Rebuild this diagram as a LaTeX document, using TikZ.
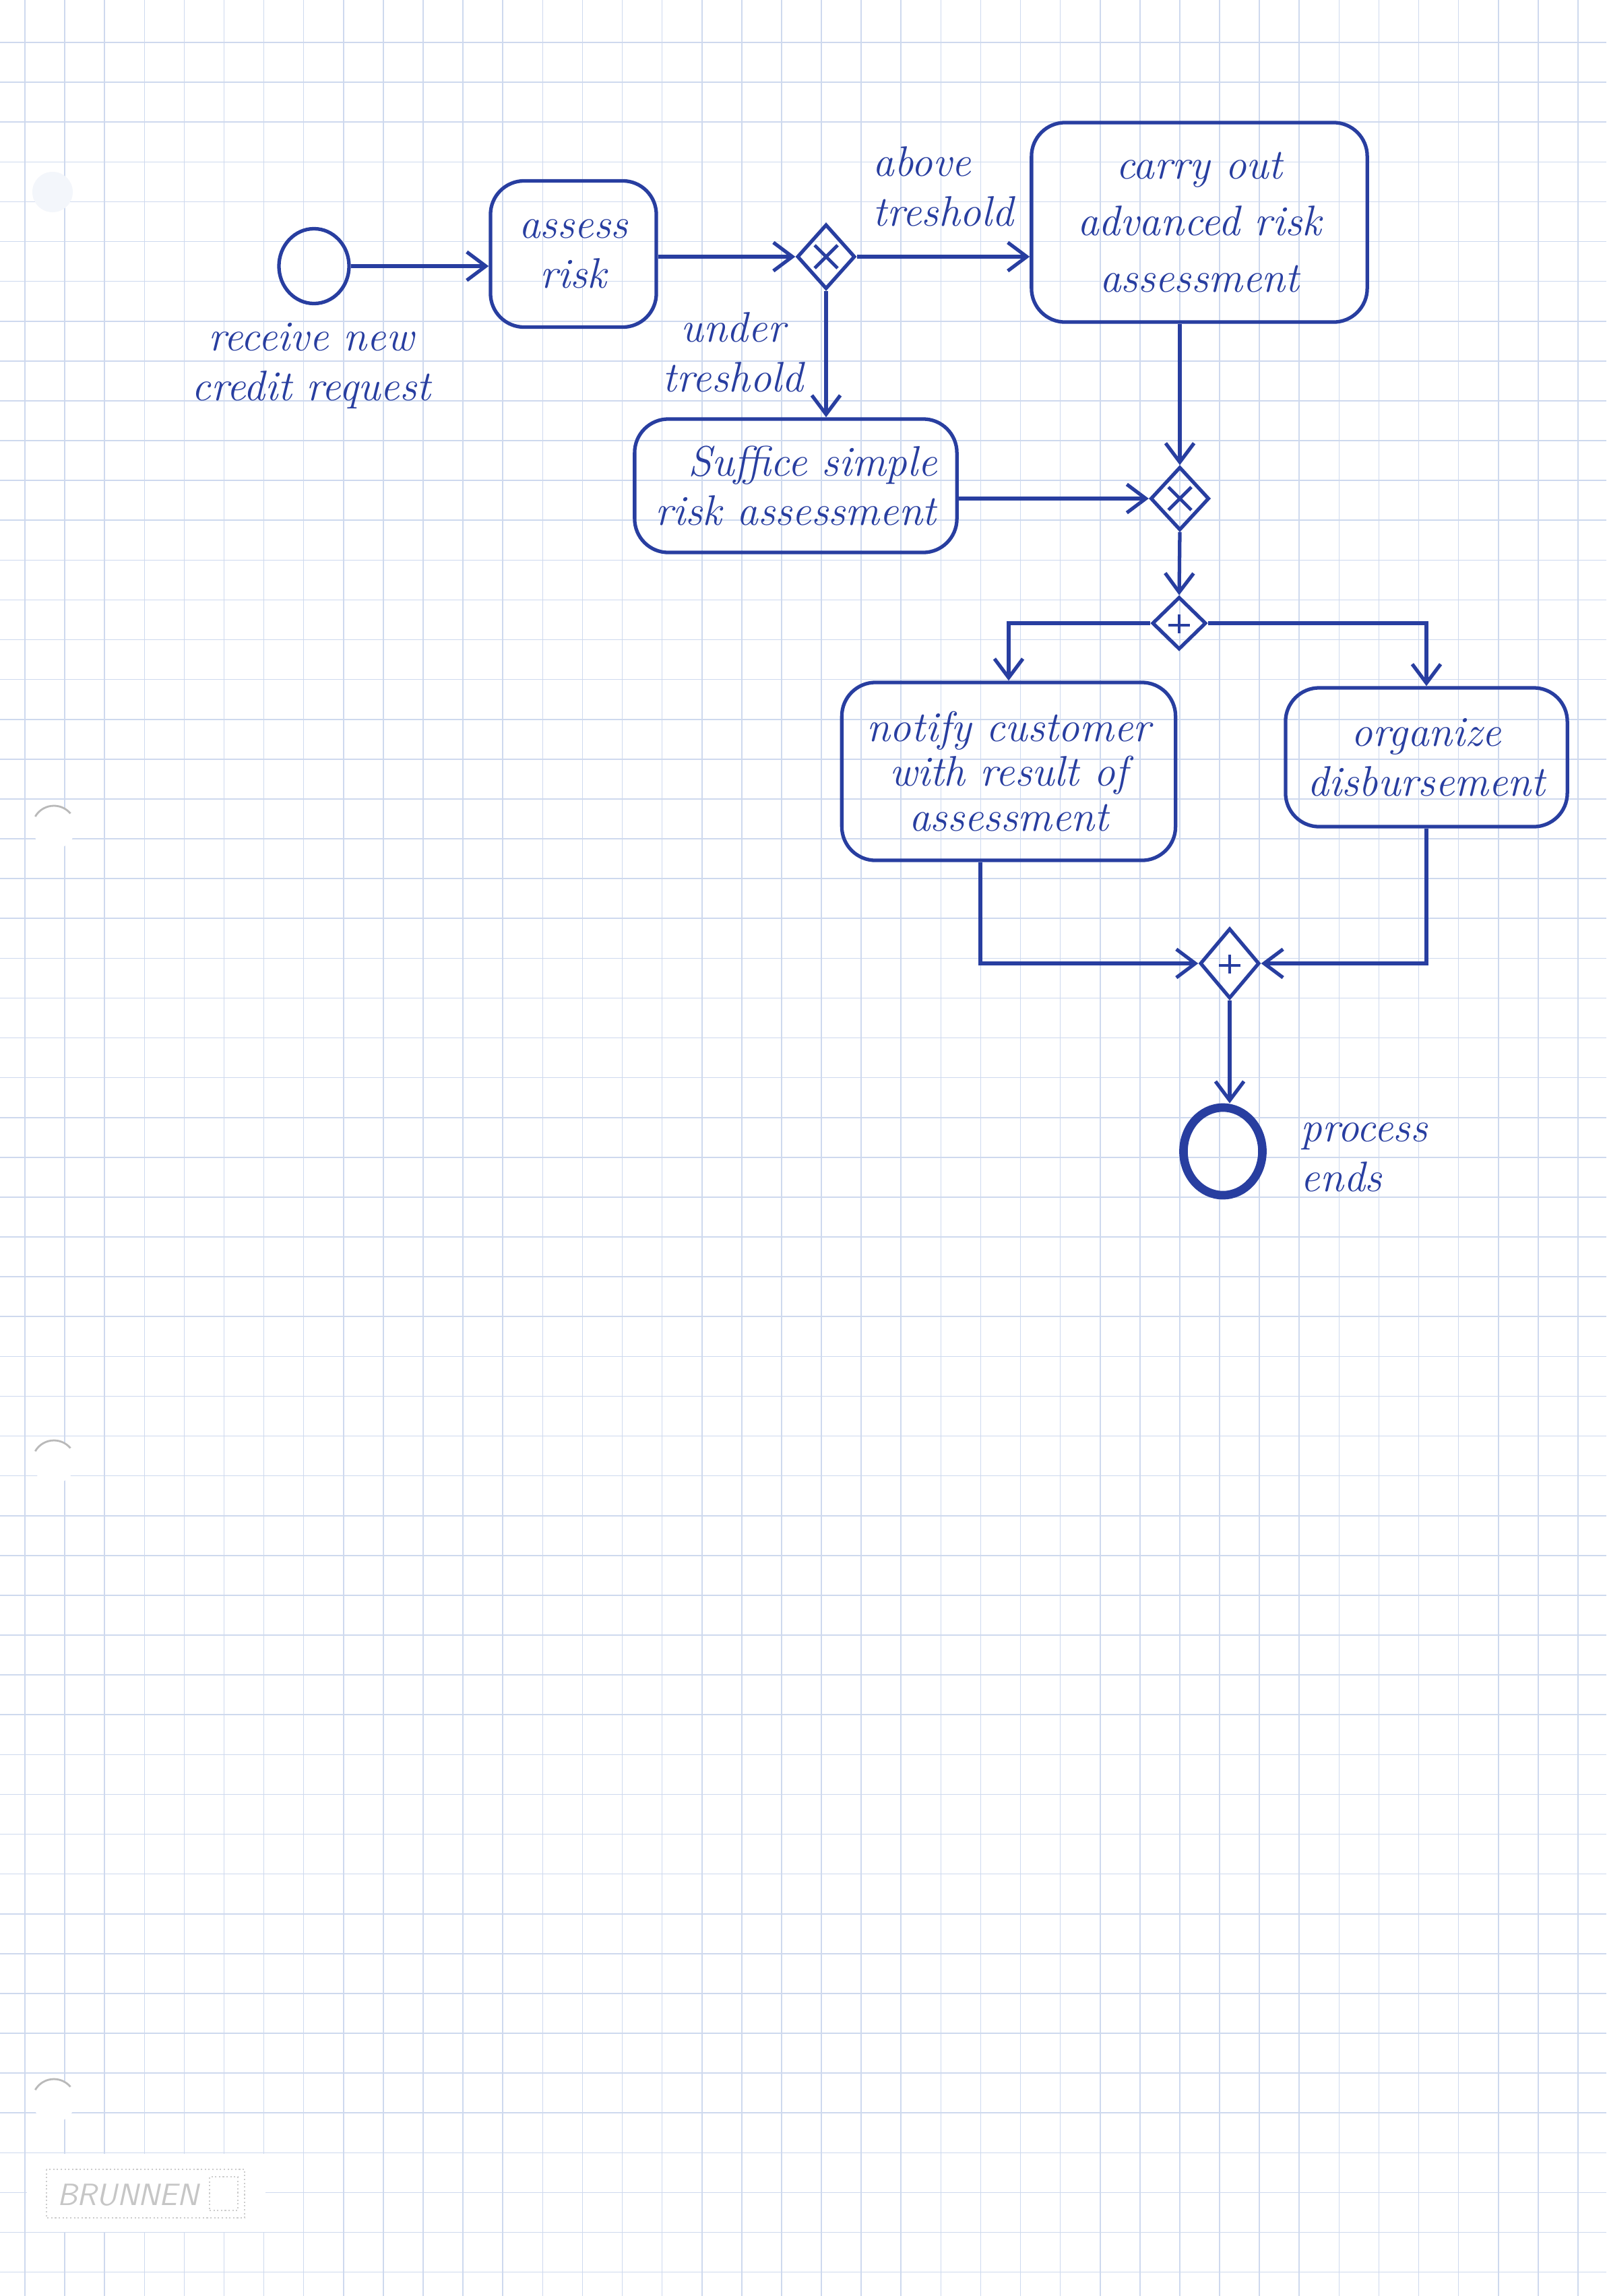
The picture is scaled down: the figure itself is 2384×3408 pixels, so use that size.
\documentclass[tikz,border=0pt]{standalone}
\usetikzlibrary{shapes.geometric,arrows.meta,calc}
\definecolor{ink}{RGB}{40,62,160}
\definecolor{gridc}{RGB}{206,217,238}
\newcommand{\handfont}{\fontsize{18}{21}\selectfont\itshape}
\begin{document}
\begin{tikzpicture}[x=0.01cm,y=-0.01cm,
  pen/.style={draw=ink, line width=1.5pt},
  flow/.style={draw=ink, line width=1.5pt, -{Straight Barb[length=8pt,width=12pt]}},
  task/.style={pen, rounded corners=0.5cm, align=center, font=\handfont, text=ink, inner sep=0pt},
  gw/.style={pen, diamond, inner sep=0pt},
  xorgw/.style={gw, path picture={\draw[ink, line width=1.4pt]
      ($(path picture bounding box.center)+(-17,-17)$) -- ++(34,34)
      ($(path picture bounding box.center)+(17,-17)$) -- ++(-34,34);}},
  andgw/.style={gw, path picture={\draw[ink, line width=1.4pt]
      ($(path picture bounding box.center)+(-16,3)$) -- ++(32,0)
      ($(path picture bounding box.center)+(0,-13)$) -- ++(0,28);}},
  lbl/.style={font=\handfont, text=ink, inner sep=0pt},
  gridline/.style={draw=gridc, line width=0.45pt}]

\useasboundingbox (0,0) rectangle (2384,3408);
\fill[white] (0,0) rectangle (2384,3408);

% grid paper
\foreach \i in {0,...,39} \draw[gridline] ({37+59.1*\i},0) -- ({37+59.1*\i},3408);
\foreach \j in {0,...,56} \draw[gridline] (0,{63+59.1*\j}) -- (2384,{63+59.1*\j});

% punch holes
\fill[gridc!25] (78,285) circle[radius=30];
\foreach \yy in {1228,2170,3118} {
  \fill[white] (80,\yy) circle[radius=32];
  \draw[gray!55, line width=0.8pt] (80,\yy) ++(210:32) arc[start angle=210, end angle=320, radius=32];
}

% brand imprint
\fill[white] (40,3197) rectangle (394,3313);
\draw[gray!40, densely dotted, line width=0.6pt] (69,3220) rectangle (363,3292);
\node[font=\sffamily\itshape\fontsize{13}{13}\selectfont, text=gray!45, inner sep=0pt] (brand) at (190,3258) {BRUNNEN};
\node[draw=gray!40, densely dotted, line width=0.6pt, minimum width=0.42cm, minimum height=0.5cm, inner sep=0pt] (logo) at (332,3256) {};

% events
\node[pen, ellipse, minimum width=1.04cm, minimum height=1.11cm, inner sep=0pt] (S) at (466,395) {};
\node[draw=ink, line width=3.6pt, ellipse, minimum width=1.17cm, minimum height=1.3cm, inner sep=0pt] (End) at (1815,1709) {};

% tasks
\node[task, minimum width=2.46cm, minimum height=2.17cm] (A) at (851,377) {assess\\risk};
\node[task, minimum width=4.98cm, minimum height=2.96cm, font=\fontsize{18}{24}\selectfont\itshape] (B) at (1780,330) {carry out\\advanced risk\\assessment};
\node[task, minimum width=4.78cm, minimum height=1.98cm] (C) at (1181,721) {\hspace*{0.5cm}Suffice simple\\risk assessment};
\node[task, minimum width=4.95cm, minimum height=2.64cm, font=\fontsize{18}{19}\selectfont\itshape] (D) at (1497,1145) {notify customer\\with result of\\assessment};
\node[task, minimum width=4.18cm, minimum height=2.06cm] (E) at (2117,1124) {organize\\disbursement};

% gateways
\node[xorgw, minimum width=0.86cm, minimum height=0.96cm] (G1) at (1226,381) {};
\node[xorgw, minimum width=0.87cm, minimum height=0.94cm] (G2) at (1751,740) {};
\node[andgw, minimum width=0.80cm, minimum height=0.78cm] (G3) at (1750,925) {};
\node[andgw, minimum width=0.88cm, minimum height=1.04cm] (G4) at (1825,1430) {};

% labels
\node[lbl, align=center] (lS) at (462,543) {receive new\\credit request};
\node[lbl, align=left, anchor=west] (lAbove) at (1295,277) {above\\treshold};
\node[lbl, align=center] (lUnder) at (1088,523) {under\\treshold};
\node[lbl, align=left, anchor=west] (lEnd) at (1930,1718) {process\\ends};

% sequence flows
\draw[flow] (S.east) -- (S.east -| A.west);
\draw[flow] (A.east |- G1) -- (G1.west);
\draw[flow] (G1.east) -- (G1.east -| B.west);
\draw[flow] (G1.south) -- (G1.south |- C.north);
\draw[flow] (C.east |- G2) -- (G2.west);
\draw[flow] (B.south -| G2) -- (G2.north);
\draw[flow] (G2.south) -- (G3.north);
\draw[flow] (G3.west) -| (D.north);
\draw[flow] (G3.east) -| (E.north);
\draw[flow] ($(D.south)+(-42,0)$) |- (G4.west);
\draw[flow] (E.south) |- (G4.east);
\draw[flow] (G4.south) -- (G4.south |- End.north);
\end{tikzpicture}
\end{document}
